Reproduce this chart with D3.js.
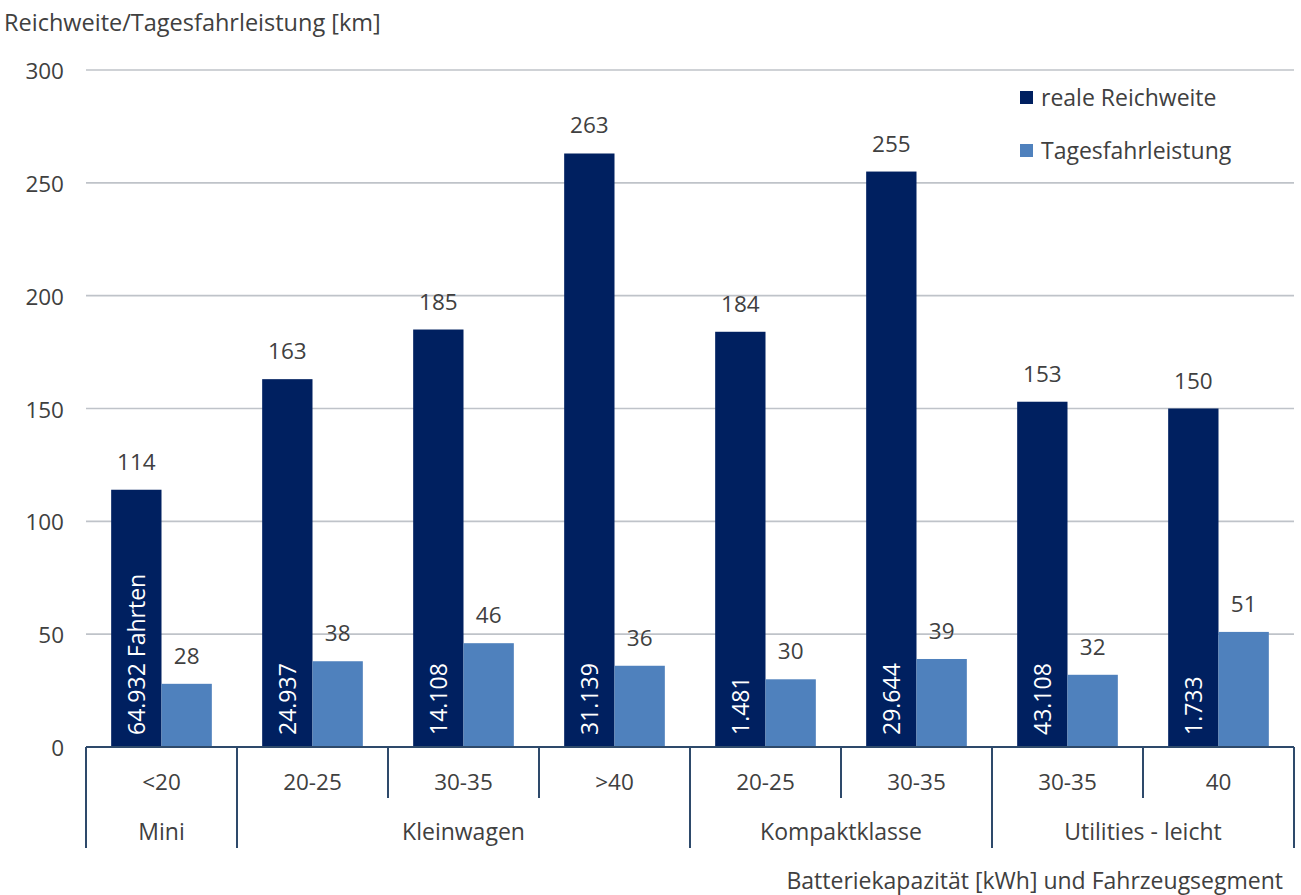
<!DOCTYPE html>
<html><head><meta charset="utf-8">
<script src="https://cdn.jsdelivr.net/npm/d3@7"></script>
<style>body{margin:0;background:#fff}svg{display:block;font-family:"Open Sans","Noto Sans",sans-serif}</style>
</head><body><svg id="c" width="1301" height="895"></svg>
<script>
const categories = ["<20","20-25","30-35",">40","20-25","30-35","30-35","40"];
const groups = [{name:"Mini",n:1},{name:"Kleinwagen",n:3},{name:"Kompaktklasse",n:2},{name:"Utilities - leicht",n:2}];
const seriesNames = ["reale Reichweite","Tagesfahrleistung"];
const reichweite = [114,163,185,263,184,255,153,150];
const tagesfahrleistung = [28,38,46,36,30,39,32,51];
const fahrten = ["64.932 Fahrten","24.937","14.108","31.139","1.481","29.644","43.108","1.733"];
const yTicks = [0,50,100,150,200,250,300];
const colors = ["#002060","#4F81BD"];

const svg = d3.select("#c");
const L=86, R=1294, T=70, B=747;
const FN=22.5, FT=23;
const x0 = d3.scaleBand().domain(d3.range(categories.length)).range([L,R]).padding(0);
const x1 = d3.scaleBand().domain([0,1]).range([0,x0.bandwidth()]).paddingInner(0).paddingOuter(0.5);
const y = d3.scaleLinear().domain([0,300]).range([B,T]);
const textCol="#404040";

// grid
svg.append("g").selectAll("line").data(yTicks.filter(d=>d>0)).join("line")
  .attr("x1",L).attr("x2",R).attr("y1",d=>y(d)).attr("y2",d=>y(d))
  .attr("stroke","#BFC3C9").attr("stroke-width",1.6);
// y labels
svg.append("g").selectAll("text").data(yTicks).join("text")
  .attr("x",64).attr("y",d=>y(d)+9).attr("text-anchor","end")
  .attr("font-size",FN).attr("fill",textCol).text(d=>d);
svg.append("text").attr("x",4).attr("y",31).attr("font-size",23.5).attr("fill",textCol).text("Reichweite/Tagesfahrleistung [km]");

const data = categories.map((c,i)=>({i, vals:[reichweite[i],tagesfahrleistung[i]]}));
const g = svg.append("g").selectAll("g").data(data).join("g").attr("transform",d=>`translate(${x0(d.i)},0)`);
g.selectAll("rect").data(d=>d.vals.map((v,s)=>({v,s}))).join("rect")
  .attr("x",d=>x1(d.s)).attr("width",x1.bandwidth()).attr("y",d=>y(d.v)).attr("height",d=>B-y(d.v))
  .attr("fill",d=>colors[d.s]);
g.selectAll("text.v").data(d=>d.vals.map((v,s)=>({v,s}))).join("text").attr("class","v")
  .attr("x",d=>x1(d.s)+x1.bandwidth()/2).attr("y",d=>y(d.v)-20).attr("text-anchor","middle")
  .attr("font-size",FN).attr("fill",textCol).text(d=>d.v);
g.append("text").attr("transform",d=>`translate(${x1(0)+x1.bandwidth()/2+9},${B-12}) rotate(-90)`)
  .attr("font-size",23).attr("fill","#fff").text(d=>fahrten[d.i]);

// axis
const ax="#2E4A6B";
svg.append("line").attr("x1",L).attr("x2",R).attr("y1",B).attr("y2",B).attr("stroke",ax).attr("stroke-width",2);
let idx=0; const bounds=[0];
groups.forEach(gr=>{idx+=gr.n;bounds.push(idx);});
const edge = i=> i<categories.length? x0(i) : R;
for(let i=0;i<=categories.length;i++){
  const isB = bounds.includes(i);
  svg.append("line").attr("x1",edge(i)).attr("x2",edge(i)).attr("y1",B).attr("y2",isB?848:798)
    .attr("stroke",ax).attr("stroke-width",2);
}
svg.append("g").selectAll("text").data(categories).join("text")
  .attr("x",(d,i)=>x0(i)+x0.bandwidth()/2).attr("y",790).attr("text-anchor","middle")
  .attr("font-size",FN).attr("fill",textCol).text(d=>d);
svg.append("g").selectAll("text").data(groups).join("text")
  .attr("x",(d,k)=>(edge(bounds[k])+edge(bounds[k+1]))/2).attr("y",840).attr("text-anchor","middle")
  .attr("font-size",FT).attr("fill",textCol).text(d=>d.name);
svg.append("text").attr("x",1283).attr("y",889).attr("text-anchor","end").attr("font-size",FT).attr("fill",textCol)
  .text("Batteriekapazität [kWh] und Fahrzeugsegment");

// legend
const lg = svg.append("g").selectAll("g").data(seriesNames).join("g").attr("transform",(d,i)=>`translate(1020,${91+i*53})`);
lg.append("rect").attr("width",13).attr("height",13).attr("fill",(d,i)=>colors[i]);
lg.append("text").attr("x",21).attr("y",15).attr("font-size",FT).attr("fill",textCol).text(d=>d);
</script></body></html>
